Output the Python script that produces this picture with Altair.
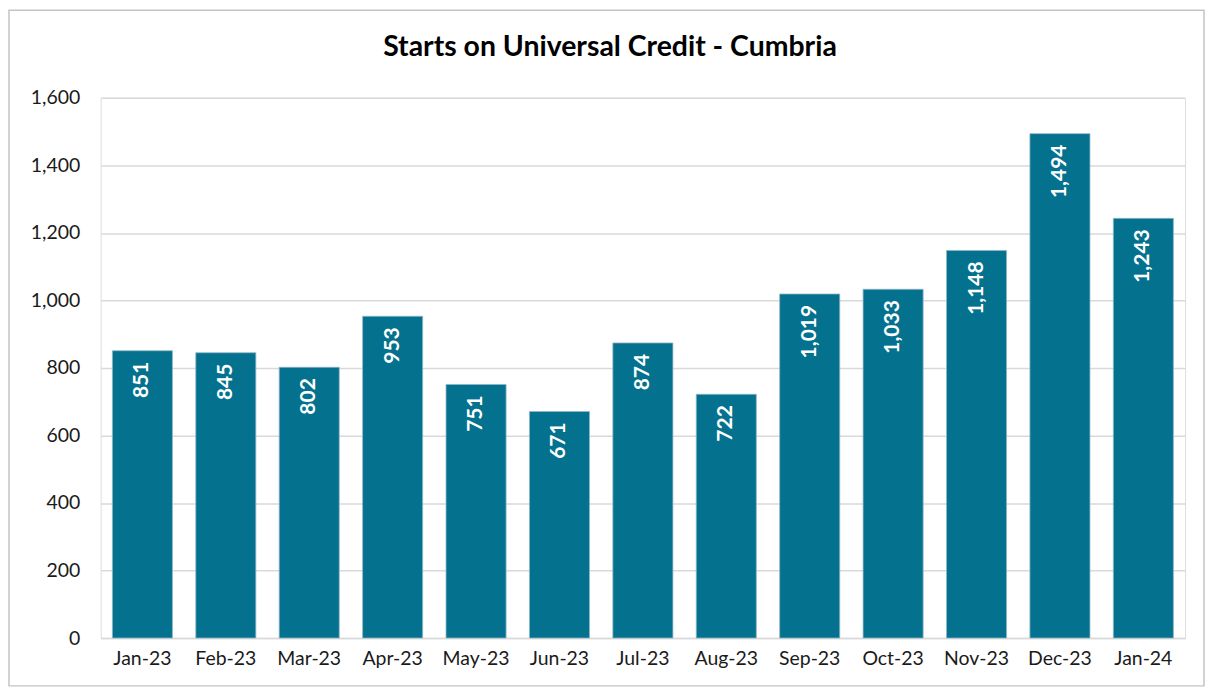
import altair as alt
import pandas as pd

months = ["Jan-23", "Feb-23", "Mar-23", "Apr-23", "May-23", "Jun-23", "Jul-23",
          "Aug-23", "Sep-23", "Oct-23", "Nov-23", "Dec-23", "Jan-24"]
starts = [851, 845, 802, 953, 751, 671, 874, 722, 1019, 1033, 1148, 1494, 1243]
y_ticks = [0, 200, 400, 600, 800, 1000, 1200, 1400, 1600]
title_text = "Starts on Universal Credit - Cumbria"

df = pd.DataFrame({"month": months, "starts": starts})

W, H = 1088, 542
FONT = "Lato"
BAR = "#04718E"

x_enc = alt.X("month:N", sort=months, title=None,
              scale=alt.Scale(paddingInner=0.28, paddingOuter=0.14),
              axis=alt.Axis(labelAngle=0, labelFontSize=19.5, labelColor="#1a1a1a",
                            labelFont=FONT, ticks=False, domain=True,
                            domainColor="#d9d9d9", domainWidth=1.5, labelPadding=12))
y_enc = alt.Y("starts:Q", title=None,
              scale=alt.Scale(domain=[0, 1600], nice=False),
              axis=alt.Axis(values=y_ticks, format=",.0f", labelFontSize=19.5,
                            labelColor="#1a1a1a", labelFont=FONT, ticks=False,
                            domain=False, grid=True, gridColor="#d9d9d9",
                            gridWidth=1.5, labelPadding=21))

bars = alt.Chart(df).mark_bar(color=BAR, stroke="#8fb8c6", strokeWidth=0.8).encode(
    x=x_enc, y=y_enc)

labels = alt.Chart(df).mark_text(
    angle=270, align="right", baseline="middle", dx=-11,
    color="white", fontSize=21, fontWeight="bold", font=FONT
).encode(
    x=alt.X("month:N", sort=months),
    y=alt.Y("starts:Q"),
    text=alt.Text("starts:Q", format=",.0f"))

one = pd.DataFrame({"t": [title_text]})

border = alt.Chart(one).mark_rect(
    filled=False, stroke="#c4c4c4", strokeWidth=1.5
).encode(
    x=alt.value(-92), x2=alt.value(1107), y=alt.value(-88), y2=alt.value(590))

title = alt.Chart(one).mark_text(
    fontSize=28.5, font=FONT, fontWeight="bold", color="#000000",
    align="center", baseline="middle"
).encode(
    x=alt.value(511), y=alt.value(-51), text="t:N")

chart = alt.layer(border, bars, labels, title).properties(
    width=W, height=H,
    autosize=alt.AutoSizeParams(type="none"),
    padding={"left": 93, "top": 89, "right": 20, "bottom": 50},
).configure_view(stroke=None).configure(background="white")

chart.save("out.html", embed_options={"renderer": "svg", "actions": False})
